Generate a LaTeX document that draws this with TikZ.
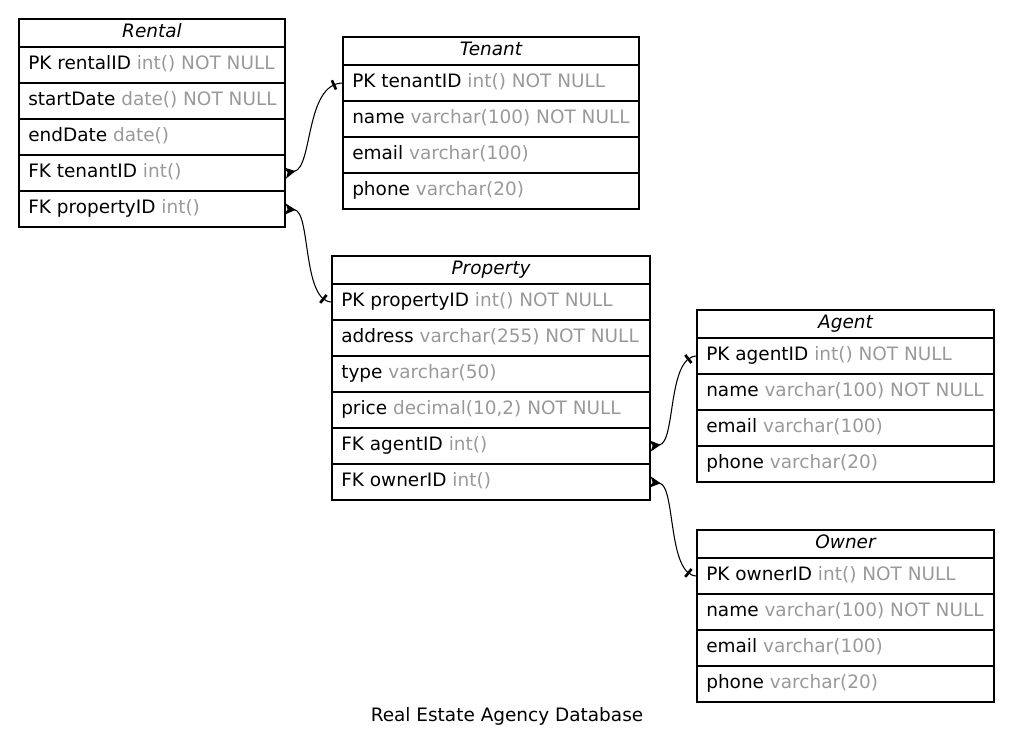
\documentclass[tikz,border=0pt]{standalone}
\usepackage{fontspec}
\setmainfont{DejaVu Sans}
\usetikzlibrary{arrows.meta,calc,decorations.markings}
\definecolor{typegray}{HTML}{999999}
\newcommand\ty[1]{\textcolor{typegray}{#1}}
\newcommand\ERcell[5]{%
  \node[cell, minimum width=#4*0.75pt] (#1) at (#2,#3) {};
  \node[celltext] (#1-t) at ($(#1.north west)+(9,22.5)$) {#5};}
\newcommand\ERhead[5]{%
  \node[cell, minimum width=#4*0.75pt, minimum height=21pt] (#1) at (#2,#3) {};
  \node[hdrtext] (#1-t) at ($(#1.north)+(0,18)$) {#5};}
\tikzset{
  cell/.style={draw, line width=0.8pt, inner sep=0pt, outer sep=0pt, anchor=north west, minimum height=27pt},
  celltext/.style={anchor=base west, inner sep=0pt},
  hdrtext/.style={anchor=base, inner sep=0pt, font=\fontsize{13.85}{17}\selectfont\itshape},
  rel/.style={line width=0.8pt, {Stealth[reversed,length=8pt,width=8.5pt,inset=2pt]}-,
    postaction={decorate},
    decoration={markings, mark=at position -7pt with {\draw[line width=2pt,-] (0,-3.8pt) -- (0,3.8pt);}}}
}
\begin{document}
\begin{tikzpicture}[x=0.75pt,y=-0.75pt,font=\fontsize{13.85}{17}\selectfont]
\useasboundingbox (0,0) rectangle (1013,751);
% Rental
\ERhead{rental-h}{19}{19}{266}{Rental}
\ERcell{rental-1}{19}{47}{266}{PK rentalID \ty{int() NOT NULL}}
\ERcell{rental-2}{19}{83}{266}{startDate \ty{date() NOT NULL}}
\ERcell{rental-3}{19}{119}{266}{endDate \ty{date()}}
\ERcell{rental-4}{19}{155}{266}{FK tenantID \ty{int()}}
\ERcell{rental-5}{19}{191}{266}{FK propertyID \ty{int()}}
% Tenant
\ERhead{tenant-h}{343}{37}{296}{Tenant}
\ERcell{tenant-1}{343}{65}{296}{PK tenantID \ty{int() NOT NULL}}
\ERcell{tenant-2}{343}{101}{296}{name \ty{varchar(100) NOT NULL}}
\ERcell{tenant-3}{343}{137}{296}{email \ty{varchar(100)}}
\ERcell{tenant-4}{343}{173}{296}{phone \ty{varchar(20)}}
% Property
\ERhead{prop-h}{332}{256}{318}{Property}
\ERcell{prop-1}{332}{284}{318}{PK propertyID \ty{int() NOT NULL}}
\ERcell{prop-2}{332}{320}{318}{address \ty{varchar(255) NOT NULL}}
\ERcell{prop-3}{332}{356}{318}{type \ty{varchar(50)}}
\ERcell{prop-4}{332}{392}{318}{price \ty{decimal(10,2) NOT NULL}}
\ERcell{prop-5}{332}{428}{318}{FK agentID \ty{int()}}
\ERcell{prop-6}{332}{464}{318}{FK ownerID \ty{int()}}
% Agent
\ERhead{agent-h}{697}{310}{297}{Agent}
\ERcell{agent-1}{697}{338}{297}{PK agentID \ty{int() NOT NULL}}
\ERcell{agent-2}{697}{374}{297}{name \ty{varchar(100) NOT NULL}}
\ERcell{agent-3}{697}{410}{297}{email \ty{varchar(100)}}
\ERcell{agent-4}{697}{446}{297}{phone \ty{varchar(20)}}
% Owner
\ERhead{owner-h}{697}{530}{297}{Owner}
\ERcell{owner-1}{697}{558}{297}{PK ownerID \ty{int() NOT NULL}}
\ERcell{owner-2}{697}{594}{297}{name \ty{varchar(100) NOT NULL}}
\ERcell{owner-3}{697}{630}{297}{email \ty{varchar(100)}}
\ERcell{owner-4}{697}{666}{297}{phone \ty{varchar(20)}}
% relations
\draw[rel] (rental-4.east) .. controls +(28,-5) and +(-38,0) .. (tenant-1.west);
\draw[rel] (rental-5.east) .. controls +(26,2) and +(-30,0) .. (prop-1.west);
\draw[rel] (prop-5.east) .. controls +(26,-3) and +(-30,0) .. (agent-1.west);
\draw[rel] (prop-6.east) .. controls +(26,3) and +(-30,0) .. (owner-1.west);
% caption
\node[anchor=base, inner sep=0pt] (caption) at (507,721) {Real Estate Agency Database};
\end{tikzpicture}
\end{document}
